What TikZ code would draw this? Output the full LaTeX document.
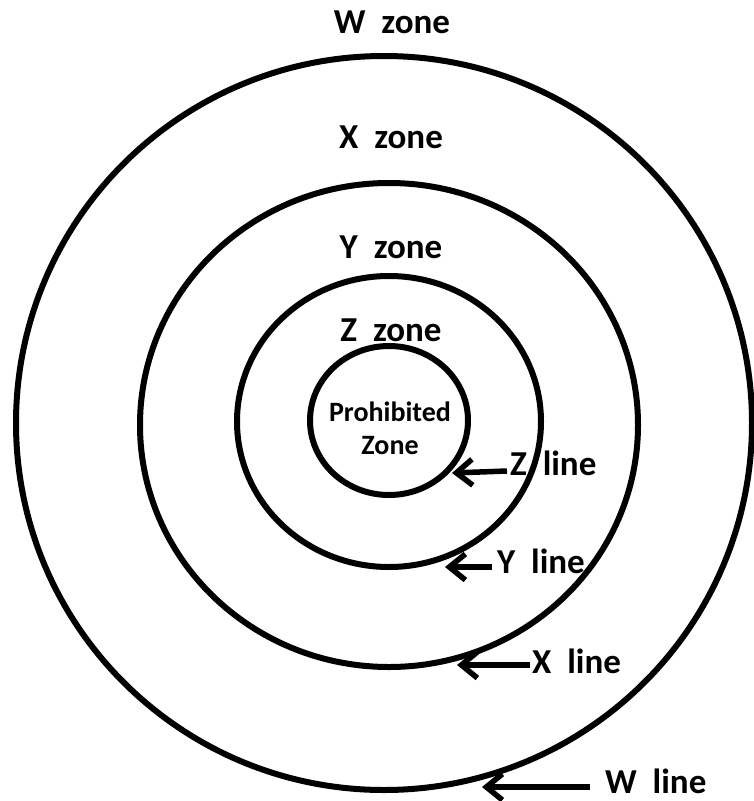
\documentclass[tikz,border=0pt]{standalone}
\usepackage{fontspec}
\setmainfont{Carlito}
\usetikzlibrary{arrows.meta}
\begin{document}
\begin{tikzpicture}[x=1pt,y=-1pt,
  ring/.style={line width=6pt},
  zonelabel/.style={font=\fontsize{35}{42}\selectfont\bfseries, inner sep=0pt, anchor=base},
  linelabel/.style={font=\fontsize{35}{42}\selectfont\bfseries, inner sep=0pt, anchor=base west},
  pointer/.style={line width=5.5pt, -{Straight Barb[length=16pt,width=26pt,line width=5.5pt]}}
]
\useasboundingbox (0,0) rectangle (754,801);
% rings
\draw[ring] (384,423) ellipse [x radius=368, y radius=367];
\draw[ring] (389,425) ellipse [x radius=249, y radius=242];
\draw[ring] (389,421.5) ellipse [x radius=152, y radius=145.5];
\draw[ring] (389,420.5) ellipse [x radius=79, y radius=74.5];
% zone labels
\node[zonelabel] (wz) at (392,33) {W\ \ zone};
\node[zonelabel] (xz) at (391,148) {X\ \ zone};
\node[zonelabel] (yz) at (391,258) {Y\ \ zone};
\node[zonelabel] (zz) at (391,341) {Z\ \ zone};
\node[font=\fontsize{28}{33}\selectfont\bfseries, inner sep=0pt, align=center] (pz) at (390,428) {Prohibited\\Zone};
% line labels
\node[linelabel] (zl) at (510,475) {Z\ \ line};
\node[linelabel] (yl) at (497,573) {Y\ \ line};
\node[linelabel] (xl) at (532,673) {X\ \ line};
\node[linelabel] (wl) at (605,793) {W\ \ line};
% arrow tips on the rings
\coordinate (zt) at (452,473);
\coordinate (yt) at (445,567);
\coordinate (xt) at (457,665);
\coordinate (wt) at (482,787);
\draw[pointer] ([shift={(-3,-4)}]zl.base west) -- (zt);
\draw[pointer] ([shift={(-5,-6)}]yl.base west) -- (yt);
\draw[pointer] ([shift={(-2,-8)}]xl.base west) -- (xt);
\draw[pointer] ([shift={(-15,-6)}]wl.base west) -- (wt);
\end{tikzpicture}
\end{document}
